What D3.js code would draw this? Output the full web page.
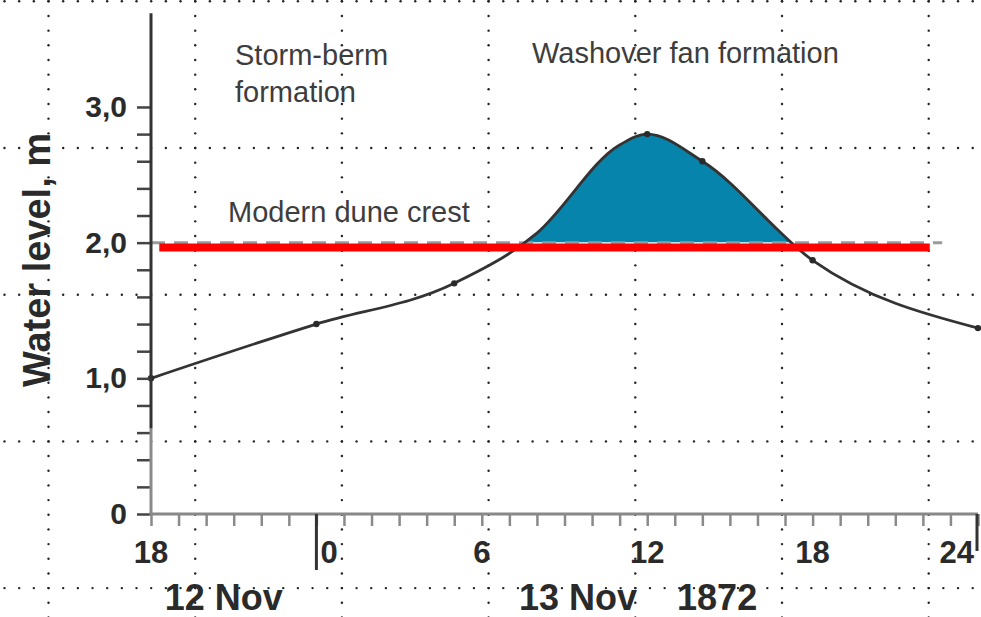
<!DOCTYPE html>
<html>
<head>
<meta charset="utf-8">
<script src="https://cdn.jsdelivr.net/npm/d3@7"></script>
<style>
body { margin: 0; background: #fff; }
svg { display: block; font-family: "Liberation Sans", Arial, sans-serif; }
</style>
</head>
<body>
<svg id="chart" width="981" height="617"></svg>
<script>
// hours counted from 00:00 on 13 Nov 1872 (so -6 is 18:00 on 12 Nov)
const hours = [-6, 0, 5, 8, 11, 12, 14, 18, 24];
const levels = [1.0, 1.4, 1.7, 2.07, 2.72, 2.8, 2.6, 1.87, 1.37];
const markedHours = [-6, 0, 5, 12, 14, 18, 24];

const duneCrest = 2.0;
const duneCrestSpan = [-6, 22.7];
const redLevel = 1.965;
const redSpan = [-5.7, 22.25];

const hourTicks = d3.range(-6, 25);
const hourLabels = ["18", "0", "6", "12", "18", "24"];
const hourLabelValues = [-6, 0, 6, 12, 18, 24];
const levelTicks = d3.range(0, 16).map(i => i * 0.2);
const levelLabels = ["0", "1,0", "2,0", "3,0"];
const levelLabelValues = [0, 1, 2, 3];
const dayLabels = ["12 Nov", "13 Nov    1872"];
const dayLabelHours = [-5.5, 7.35];

const svg = d3.select("#chart");
const W = 981, H = 617;

svg.append("rect").attr("width", W).attr("height", H).attr("fill", "#fff");

const x = d3.scaleLinear().domain([-6, 24]).range([151, 978]);
const y = d3.scaleLinear().domain([0, 3.7]).range([514, 12]);

// dotted background grid
const gridStep = 146.7, dotStep = gridStep / 10;
const grid = svg.append("g").attr("fill", "#222");
const colX = d3.range(7).map(i => 48.5 + i * gridStep);
const rowY = d3.range(5).map(i => 1.3 + i * gridStep);
for (const cx of colX) {
    for (let k = 0; k * dotStep < H + dotStep; ++k) {
        grid.append("circle").attr("cx", cx).attr("cy", 1.3 + k * dotStep).attr("r", 1.2);
    }
}
for (const ry of rowY) {
    for (let k = -4; 48.5 + k * dotStep < W + dotStep; ++k) {
        grid.append("circle").attr("cx", 48.5 + k * dotStep).attr("cy", ry).attr("r", 1.2);
    }
}

const series = hours.map((h, i) => ({h: h, v: levels[i]}));

// washover fill above the dune crest
svg.append("clipPath").attr("id", "above")
    .append("rect").attr("x", 0).attr("y", 0).attr("width", W).attr("height", y(duneCrest) - 0.5);

const area = d3.area()
    .x(d => x(d.h))
    .y0(y(duneCrest) + 4)
    .y1(d => y(d.v))
    .curve(d3.curveMonotoneX);

svg.append("path")
    .datum(series)
    .attr("clip-path", "url(#above)")
    .attr("fill", "#0784ac")
    .attr("d", area);

// modern dune crest (dashed)
svg.append("line")
    .attr("x1", x(duneCrestSpan[0])).attr("x2", x(duneCrestSpan[1]))
    .attr("y1", y(duneCrest)).attr("y2", y(duneCrest))
    .attr("stroke", "#9a9a9a").attr("stroke-width", 3)
    .attr("stroke-dasharray", "14,9");

// water level curve
const line = d3.line()
    .x(d => x(d.h))
    .y(d => y(d.v))
    .curve(d3.curveMonotoneX);

svg.append("path")
    .datum(series)
    .attr("fill", "none")
    .attr("stroke", "#333")
    .attr("stroke-width", 2.8)
    .attr("d", line);

svg.append("g").selectAll("circle")
    .data(series.filter(d => markedHours.includes(d.h)))
    .join("circle")
    .attr("cx", d => x(d.h))
    .attr("cy", d => y(d.v))
    .attr("r", 3.2)
    .attr("fill", "#2a2a2a");

// red marker line
svg.append("line")
    .attr("x1", x(redSpan[0])).attr("x2", x(redSpan[1]))
    .attr("y1", y(redLevel)).attr("y2", y(redLevel))
    .attr("stroke", "#ff0000").attr("stroke-width", 8);

// y axis
const yAxis = svg.append("g")
    .attr("transform", `translate(${x(-6)},0)`)
    .call(d3.axisLeft(y)
        .tickValues(levelTicks)
        .tickSize(14)
        .tickPadding(10)
        .tickFormat(d => {
            const i = levelLabelValues.findIndex(v => Math.abs(v - d) < 1e-6);
            return i < 0 ? "" : levelLabels[i];
        }));
yAxis.select(".domain").remove();
yAxis.selectAll(".tick line").attr("stroke", "#444").attr("stroke-width", 2.5);
yAxis.selectAll(".tick text")
    .attr("fill", "#2a2a2a")
    .attr("font-size", 30)
    .attr("font-weight", "bold")
    .attr("font-family", "Liberation Sans, Arial, sans-serif");

svg.append("line")
    .attr("x1", x(-6)).attr("x2", x(-6))
    .attr("y1", y(0.63)).attr("y2", y(0))
    .attr("stroke", "#8a8a8a").attr("stroke-width", 3);
svg.append("line")
    .attr("x1", x(-6)).attr("x2", x(-6))
    .attr("y1", y(3.69)).attr("y2", y(0.63))
    .attr("stroke", "#333").attr("stroke-width", 3);

// x axis
const xAxis = svg.append("g")
    .attr("transform", `translate(0,${y(0)})`)
    .call(d3.axisBottom(x).tickValues(hourTicks).tickSize(12).tickFormat(""));
xAxis.select(".domain").remove();
xAxis.selectAll(".tick line").attr("stroke", "#8a8a8a").attr("stroke-width", 2.5);

svg.append("line")
    .attr("x1", x(-6) - 1.5).attr("x2", x(24))
    .attr("y1", y(0)).attr("y2", y(0))
    .attr("stroke", "#888").attr("stroke-width", 3);

// day boundaries
svg.append("line")
    .attr("x1", x(0)).attr("x2", x(0))
    .attr("y1", y(0)).attr("y2", y(0) + 56)
    .attr("stroke", "#333").attr("stroke-width", 3);
svg.append("line")
    .attr("x1", x(24) - 1).attr("x2", x(24) - 1)
    .attr("y1", y(0)).attr("y2", y(0) + 37)
    .attr("stroke", "#333").attr("stroke-width", 3);

svg.append("g").selectAll("text")
    .data(hourLabelValues)
    .join("text")
    .attr("x", d => d === 0 ? x(d) + 4 : d === 24 ? x(d) - 4 : x(d))
    .attr("y", 563)
    .attr("text-anchor", d => d === 0 ? "start" : d === 24 ? "end" : "middle")
    .attr("fill", "#2a2a2a")
    .attr("font-size", 31)
    .attr("font-weight", "bold")
    .text((d, i) => hourLabels[i]);

svg.append("g").selectAll("text")
    .data(dayLabels)
    .join("text")
    .attr("x", (d, i) => x(dayLabelHours[i]))
    .attr("y", 610)
    .attr("fill", "#2a2a2a")
    .attr("font-size", 36)
    .attr("font-weight", "bold")
    .style("white-space", "pre")
    .text(d => d);

// axis title
svg.append("text")
    .attr("transform", "translate(50,260) rotate(-90)")
    .attr("text-anchor", "middle")
    .attr("fill", "#2a2a2a")
    .attr("font-size", 38)
    .attr("font-weight", "bold")
    .text("Water level, m");

// annotations
const notes = svg.append("g").attr("fill", "#3d3d3d").attr("font-size", 29);
notes.append("text").attr("x", 235).attr("y", 65).text("Storm-berm");
notes.append("text").attr("x", 235).attr("y", 102).text("formation");
notes.append("text").attr("x", 532).attr("y", 63).text("Washover fan formation");
notes.append("text").attr("x", 228).attr("y", 222).text("Modern dune crest");
</script>
</body>
</html>
